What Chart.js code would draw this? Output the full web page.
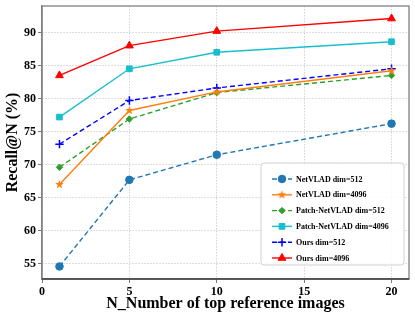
<!DOCTYPE html>
<html>
<head>
<meta charset="utf-8">
<script src="https://cdn.jsdelivr.net/npm/chart.js@4.4.1/dist/chart.umd.min.js"></script>
<style>
  html, body { margin: 0; padding: 0; background: #fff; }
  #wrap { width: 415px; height: 320px; }
</style>
</head>
<body>
<div id="wrap"><canvas id="chart"></canvas></div>
<script>
const topN = [1, 5, 10, 20];
const netvlad512 = [54.6, 67.7, 71.5, 76.2];
const netvlad4096 = [67.0, 78.2, 81.0, 84.2];
const patch512 = [69.6, 76.9, 80.9, 83.5];
const patch4096 = [77.2, 84.5, 87.0, 88.6];
const ours512 = [73.1, 79.7, 81.6, 84.5];
const ours4096 = [83.5, 88.0, 90.2, 92.1];
const xTicks = [0, 5, 10, 15, 20];
const yTicks = [55, 60, 65, 70, 75, 80, 85, 90];

const serif = '"Liberation Serif", "Times New Roman", serif';

// filled star marker like matplotlib '*'
function makeStar(color, r) {
    const c = document.createElement('canvas');
    const s = Math.ceil(r * 2 + 2);
    c.width = s; c.height = s;
    const g = c.getContext('2d');
    g.fillStyle = color;
    g.beginPath();
    for (let i = 0; i < 10; i++) {
        const rad = i % 2 === 0 ? r : r * 0.42;
        const a = -Math.PI / 2 + i * Math.PI / 5;
        g.lineTo(s / 2 + rad * Math.cos(a), s / 2 + rad * Math.sin(a));
    }
    g.closePath();
    g.fill();
    return c;
}
const star = makeStar('#ff7f0e', 4.5);

function pts(arr) {
    return arr.map((v, i) => ({ x: topN[i], y: v }));
}

function series(label, data, color, dash, style, radius, extra) {
    return Object.assign({
        label: label,
        data: pts(data),
        borderColor: color,
        backgroundColor: color,
        borderWidth: 1.4,
        borderDash: dash,
        pointStyle: style,
        pointRadius: radius,
        pointBorderWidth: 1,
        pointBorderColor: color,
        pointBackgroundColor: color,
        tension: 0,
        fill: false
    }, extra || {});
}

const datasets = [
    series('NetVLAD dim=512', netvlad512, '#1f77b4', [5, 3], 'circle', 3.8),
    series('NetVLAD dim=4096', netvlad4096, '#ff7f0e', [], star, 4.5),
    series('Patch-NetVLAD dim=512', patch512, '#2ca02c', [5, 3], 'rectRot', 3.2),
    series('Patch-NetVLAD dim=4096', patch4096, '#17becf', [], 'rect', 4),
    series('Ours dim=512', ours512, '#0000ff', [5, 3], 'cross', 4.2, { pointBorderWidth: 1.5 }),
    series('Ours dim=4096', ours4096, '#ff0000', [], 'triangle', 4.5)
];

// drop the label overflow padding so the plot box sits where the axes say
function fixPad(s) {
    s.paddingTop = 0; s.paddingBottom = 0;
    s.paddingLeft = 0; s.paddingRight = 0;
}

const framePlugin = {
    id: 'frame',
    afterDraw(chart) {
        const { ctx, chartArea: a } = chart;
        ctx.save();
        ctx.strokeStyle = '#808080';
        ctx.lineWidth = 1.3;
        ctx.strokeRect(a.left, a.top, a.right - a.left, a.bottom - a.top);
        ctx.strokeStyle = '#444';
        ctx.beginPath();
        ctx.moveTo(a.left, a.bottom);
        ctx.lineTo(a.right, a.bottom);
        ctx.stroke();

        // legend box inside the plot
        const bx = 261, by = 163, bw = 143, bh = 102;
        ctx.beginPath();
        ctx.roundRect(bx, by, bw, bh, 3);
        ctx.fillStyle = 'rgba(255,255,255,0.85)';
        ctx.fill();
        ctx.strokeStyle = '#d0d0d0';
        ctx.lineWidth = 1;
        ctx.stroke();

        ctx.font = 'bold 8px ' + serif;
        ctx.textBaseline = 'middle';
        chart.data.datasets.forEach((ds, i) => {
            const y = 179 + i * 15.8;
            ctx.strokeStyle = ds.borderColor;
            ctx.lineWidth = ds.borderWidth;
            ctx.setLineDash(ds.borderDash);
            ctx.beginPath();
            ctx.moveTo(272, y);
            ctx.lineTo(292, y);
            ctx.stroke();
            ctx.setLineDash([]);
            ctx.fillStyle = ds.pointBackgroundColor;
            ctx.strokeStyle = ds.pointBorderColor;
            ctx.lineWidth = ds.pointBorderWidth;
            Chart.helpers.drawPoint(ctx, {
                pointStyle: ds.pointStyle,
                radius: ds.pointRadius,
                rotation: 0,
                borderWidth: ds.pointBorderWidth
            }, 282, y);
            ctx.fillStyle = '#000';
            ctx.fillText(ds.label, 296, y + 0.5);
        });
        ctx.restore();
    }
};

const ctx = document.getElementById('chart').getContext('2d');

let chart = new Chart(ctx, {
    type: 'line',
    data: { datasets: datasets },
    plugins: [framePlugin],
    options: {
        responsive: true,
        maintainAspectRatio: false,
        animation: false,
        layout: { padding: { top: 6, right: 6, left: 0, bottom: 0 } },
        plugins: {
            legend: { display: false },
            tooltip: { enabled: false }
        },
        scales: {
            x: {
                type: 'linear',
                min: 0,
                max: 21,
                afterBuildTicks: s => { s.ticks = xTicks.map(v => ({ value: v })); },
                afterFit: s => { s.height = 41; fixPad(s); },
                grid: { color: '#c8c8c8', lineWidth: 0.8, tickLength: 4, tickColor: '#555' },
                border: { color: '#808080', width: 1.3, dash: [1.5, 1.5] },
                ticks: { color: '#000', padding: 2, maxRotation: 0, font: { family: serif, size: 12, weight: 'bold' } },
                title: {
                    display: true,
                    text: 'N_Number of top reference images',
                    color: '#000',
                    padding: { top: 0, bottom: 7 },
                    font: { family: serif, size: 16, weight: 'bold' }
                }
            },
            y: {
                min: 52.7,
                max: 94,
                afterBuildTicks: s => { s.ticks = yTicks.map(v => ({ value: v })); },
                afterFit: s => { s.width = 42; fixPad(s); },
                grid: { color: '#c8c8c8', lineWidth: 0.8, tickLength: 4, tickColor: '#555' },
                border: { color: '#808080', width: 1.3, dash: [1.5, 1.5] },
                ticks: { color: '#000', padding: 2, font: { family: serif, size: 12, weight: 'bold' } },
                title: {
                    display: true,
                    text: 'Recall@N (%)',
                    color: '#000',
                    padding: { top: 3, bottom: 0 },
                    font: { family: serif, size: 16, weight: 'bold' }
                }
            }
        }
    }
});
</script>
</body>
</html>
